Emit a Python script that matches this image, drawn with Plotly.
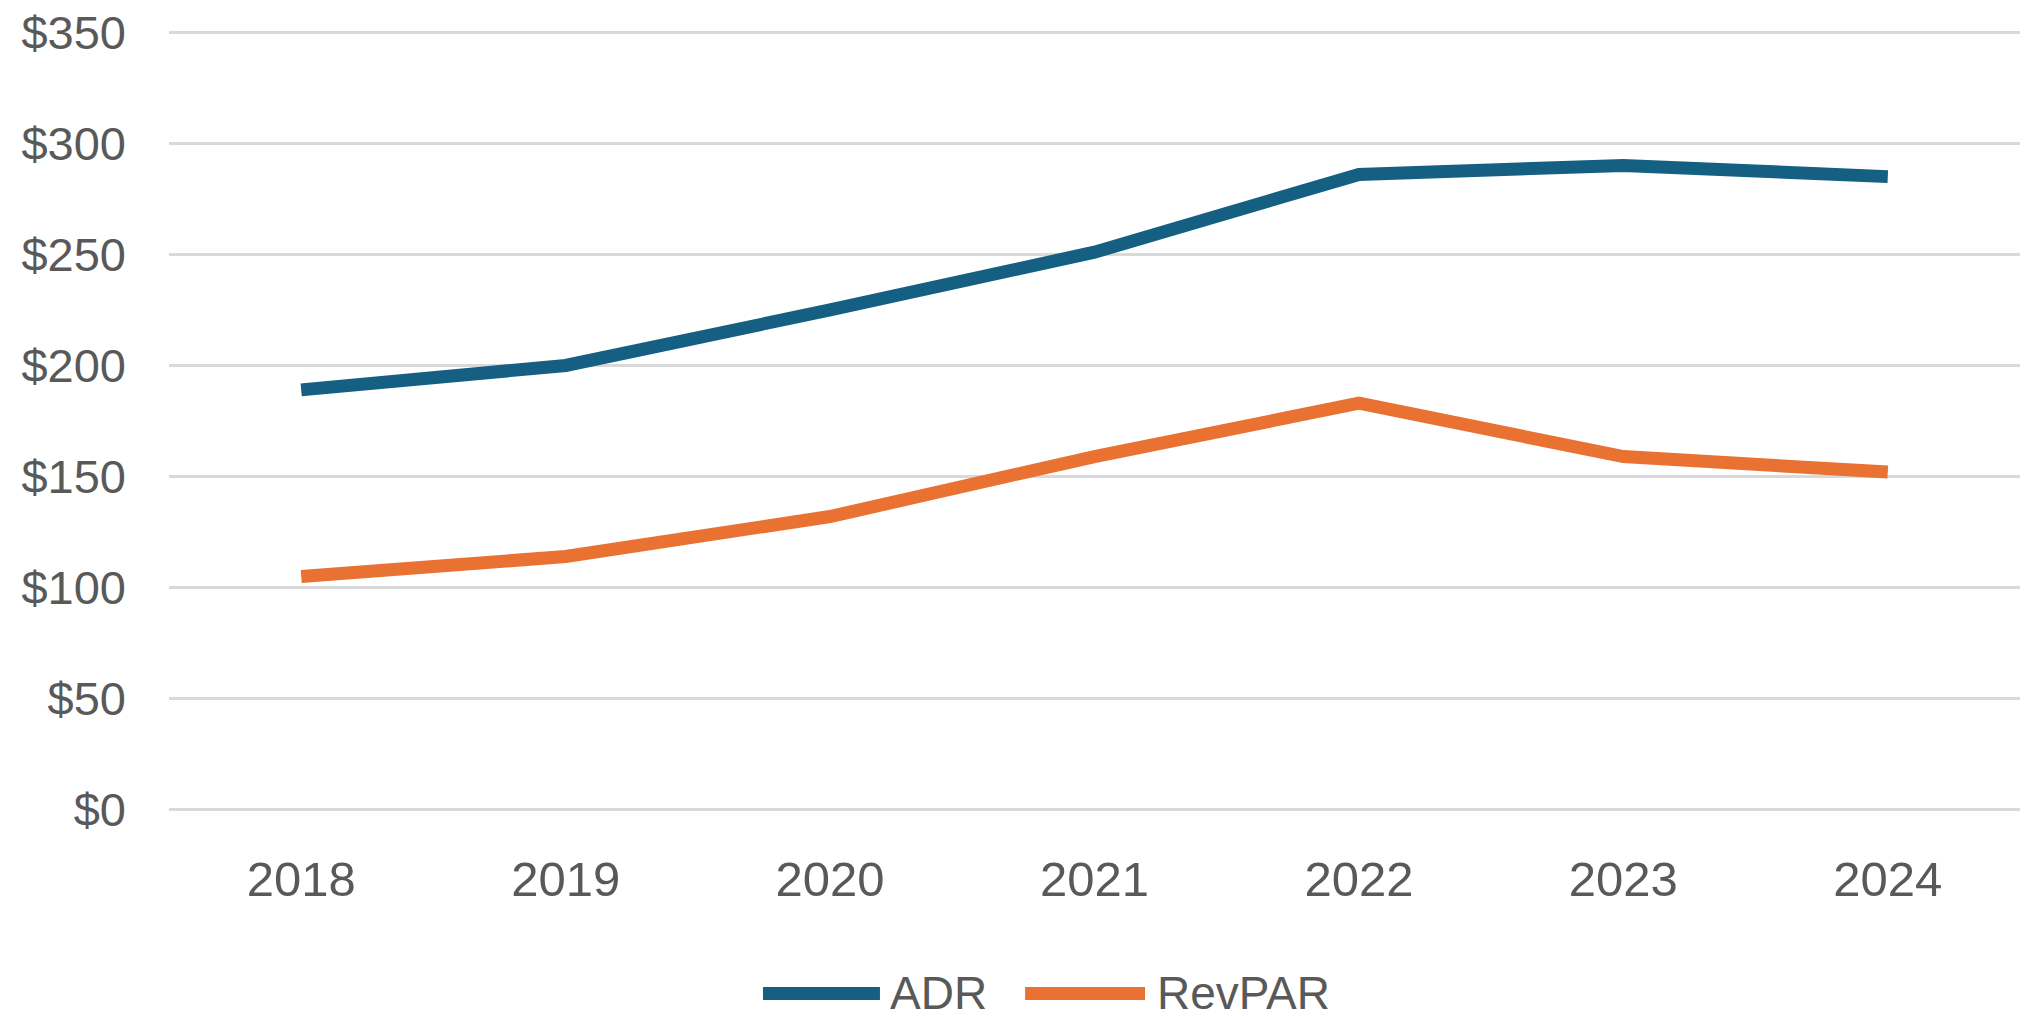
import plotly.graph_objects as go

years = ["2018", "2019", "2020", "2021", "2022", "2023", "2024"]
adr = [189, 200, 225, 251, 286, 290, 285]
revpar = [105, 114, 132, 159, 183, 159, 152]
series_names = ["ADR", "RevPAR"]
series_colors = ["#156082", "#E97132"]
y_ticks = [0, 50, 100, 150, 200, 250, 300, 350]
y_tick_labels = ["$" + str(v) for v in y_ticks]

FONT = "Liberation Sans"
TXT = "#595959"
FS = 49
FSY = 47

fig = go.Figure()
for name, vals, col in zip(series_names, [adr, revpar], series_colors):
    fig.add_trace(go.Scatter(
        x=years, y=vals, name=name, mode="lines",
        line=dict(color=col, width=13), showlegend=False,
    ))

# custom legend (long line samples like the original)
legend_items = [
    (series_names[0], series_colors[0], 0.3209, 0.3841, 0.3884),
    (series_names[1], series_colors[1], 0.4625, 0.5273, 0.5327),
]
LY = -0.232
shapes = []
annotations = []
for name, col, x0, x1, xt in legend_items:
    shapes.append(dict(type="line", xref="paper", yref="paper",
                       x0=x0, x1=x1, y0=LY, y1=LY,
                       line=dict(color=col, width=13)))
    annotations.append(dict(xref="paper", yref="paper", x=xt, y=LY,
                            text=name, showarrow=False, xanchor="left",
                            yanchor="middle",
                            font=dict(family=FONT, size=46, color=TXT)))

fig.update_layout(
    width=2028, height=1017,
    margin=dict(l=161, r=16, t=22, b=213, autoexpand=False),
    paper_bgcolor="white", plot_bgcolor="white",
    font=dict(family=FONT, size=FS, color=TXT),
    shapes=shapes, annotations=annotations,
    xaxis=dict(type="category", range=[-0.5, 6.5], automargin=False,
               showgrid=False, zeroline=False, showline=False,
               ticks="", tickfont=dict(size=FS, color=TXT, family=FONT),
               ticklabelstandoff=34),
    yaxis=dict(range=[-1, 351], tickvals=y_ticks, ticktext=y_tick_labels,
               automargin=False,
               showgrid=True, gridcolor="#D9D9D9", gridwidth=3,
               zeroline=False, showline=False, ticks="",
               tickfont=dict(size=FSY, color=TXT, family=FONT),
               ticklabelstandoff=42, ticklabeloverflow="allow"),
)

fig.write_html("out.html")
